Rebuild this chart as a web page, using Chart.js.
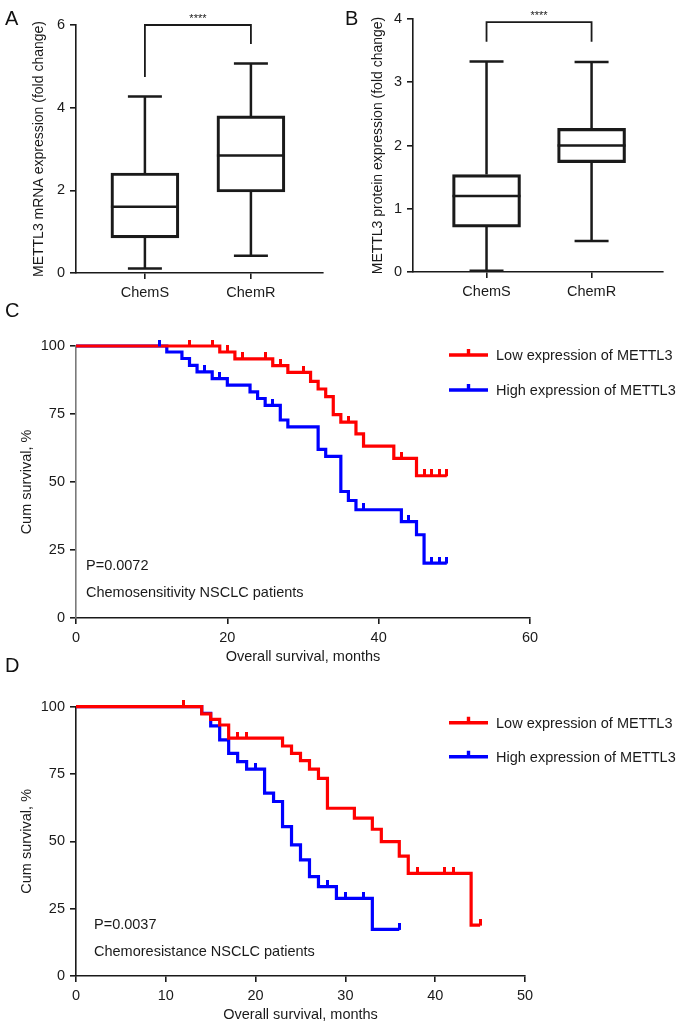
<!DOCTYPE html>
<html>
<head>
<meta charset="utf-8">
<script src="https://cdn.jsdelivr.net/npm/chart.js@4.4.0/dist/chart.umd.min.js"></script>
<style>
  body { margin: 0; background: #fff; width: 680px; height: 1027px; position: relative; overflow: hidden;
         font-family: 'Liberation Sans', Arial, sans-serif; }
  .panel { position: absolute; }
  .tag { position: absolute; font-size: 20px; line-height: 20px; color: #111; }
</style>
</head>
<body>
<div class="panel" style="left:0;top:0"><canvas id="boxA" width="340" height="310"></canvas></div>
<div class="panel" style="left:340px;top:0"><canvas id="boxB" width="340" height="310"></canvas></div>
<div class="panel" style="left:0;top:300px"><canvas id="kmC" width="680" height="370"></canvas></div>
<div class="panel" style="left:0;top:670px"><canvas id="kmD" width="680" height="357"></canvas></div>
<div class="tag" style="left:5px;top:8px">A</div>
<div class="tag" style="left:345px;top:8px">B</div>
<div class="tag" style="left:5px;top:300px">C</div>
<div class="tag" style="left:5px;top:655px">D</div>

<script>
// ---- box plots (fold change) ----
const groups = ["ChemS", "ChemR"];

const mrnaMin = [0.11, 0.42];
const mrnaQ1 = [0.85, 1.96];
const mrnaMedian = [1.6, 2.84];
const mrnaQ3 = [2.42, 3.8];
const mrnaMax = [4.27, 5.07];
const mrnaTicks = [0, 2, 4, 6];
const mrnaBracket = [4.74, 6.0, 5.54]; // left leg end, top, right leg end

const protMin = [0.02, 0.49];
const protQ1 = [0.71, 1.73];
const protMedian = [1.2, 2.0];
const protQ3 = [1.54, 2.27];
const protMax = [3.33, 3.32];
const protTicks = [0, 1, 2, 3, 4];
const protBracket = [3.64, 3.95, 3.64];

// ---- Kaplan-Meier, chemosensitive cohort ----
const sensLowTime = [0, 19, 21, 26, 28, 31, 32, 33, 34, 35, 37, 38, 42, 45, 49];
const sensLowSurv = [100, 97.8, 95.3, 92.8, 90.3, 87.0, 84.2, 81.4, 74.8, 72.0, 67.7, 63.2, 58.7, 52.3, 52.3];
const sensLowCensor = [15, 18, 20, 22, 25, 27, 30, 36, 43, 46, 47, 48, 49];
const sensHighTime = [0, 12, 14, 15, 16, 18, 20, 23, 24, 25, 27, 28, 32, 33, 35, 36, 37, 43, 45, 46, 49];
const sensHighSurv = [100, 97.8, 95.4, 92.9, 90.5, 88.0, 85.6, 83.1, 80.7, 78.2, 72.8, 70.3, 62.0, 59.4, 46.5, 43.2, 39.8, 35.4, 30.6, 20.2, 20.2];
const sensHighCensor = [11, 17, 19, 26, 38, 44, 47, 48, 49];

// ---- Kaplan-Meier, chemoresistant cohort ----
const resLowTime = [0, 14, 15, 16, 17, 23, 24, 25, 26, 27, 28, 31, 33, 34, 36, 37, 44, 45];
const resLowSurv = [100, 97.3, 95.3, 93.2, 88.3, 85.4, 82.7, 80.0, 76.8, 73.4, 62.3, 58.6, 54.5, 49.9, 44.5, 38.1, 18.9, 18.9];
const resLowCensor = [12, 18, 19, 38, 41, 42, 45];
const resHighTime = [0, 14, 15, 16, 17, 18, 19, 21, 22, 23, 24, 25, 26, 27, 29, 33, 36];
const resHighSurv = [100, 97.5, 92.9, 87.7, 82.7, 79.6, 76.8, 67.9, 64.8, 55.5, 48.7, 43.1, 36.9, 33.2, 28.8, 17.3, 17.3];
const resHighCensor = [20, 28, 30, 32, 36];

const survTicks = [0, 25, 50, 75, 100];
const monthTicksC = [0, 20, 40, 60];
const monthTicksD = [0, 10, 20, 30, 40, 50];

const ink = "#1a1a1a";
Chart.defaults.font.family = "'Liberation Sans', Arial, sans-serif";
Chart.defaults.font.size = 14.5;
Chart.defaults.color = ink;
Chart.defaults.animation = false;
Chart.defaults.plugins.legend.display = false;
Chart.defaults.plugins.tooltip.enabled = false;

function boxChart(id, mins, q1s, meds, q3s, maxs, yTicks, bracket, yTitle, opt) {
  return new Chart(document.getElementById(id), {
    type: "bar",
    data: {
      datasets: [{
        data: groups.map((g, i) => ({ x: i + 1, y: [q1s[i], q3s[i]] })),
        backgroundColor: "rgba(255,255,255,0)",
        borderColor: ink,
        borderWidth: 2.5,
        borderSkipped: false,
        barThickness: 68,
      }],
    },
    options: {
      responsive: false,
      layout: { padding: { top: opt.top, right: 17, left: 0, bottom: 0 } },
      scales: {
        x: {
          type: "linear", min: opt.xMin, max: opt.xMax, offset: false,
          afterBuildTicks: (s) => { s.ticks = groups.map((g, i) => ({ value: i + 1 })); },
          ticks: { callback: (v) => groups[v - 1], padding: 5, color: ink, maxRotation: 0 },
          grid: { drawOnChartArea: false, offset: false, tickLength: 6, color: ink, lineWidth: 1.6 },
          border: { color: ink, width: 1.6 },
          afterFit: (s) => { s.height = opt.xHeight; },
        },
        y: {
          min: yTicks[0], max: yTicks[yTicks.length - 1],
          afterBuildTicks: (s) => { s.ticks = yTicks.map((v) => ({ value: v })); },
          ticks: { padding: 5, color: ink },
          grid: { drawOnChartArea: false, tickLength: 6, color: ink, lineWidth: 1.6 },
          border: { color: ink, width: 1.6 },
          title: { display: true, text: yTitle, color: ink, font: { size: 14 }, padding: { top: opt.titlePad, bottom: 0 } },
          afterFit: (s) => { s.width = opt.yWidth; },
        },
      },
    },
    plugins: [{
      id: "whiskers",
      afterDatasetsDraw(chart) {
        const { ctx, scales: { x, y } } = chart;
        const py = (v) => y.getPixelForValue(v);
        ctx.save();
        ctx.strokeStyle = ink;
        ctx.lineWidth = 2.5;
        groups.forEach((g, i) => {
          const cx = x.getPixelForValue(i + 1);
          ctx.beginPath();
          ctx.moveTo(cx - 34, py(meds[i])); ctx.lineTo(cx + 34, py(meds[i]));
          ctx.moveTo(cx, py(q3s[i])); ctx.lineTo(cx, py(maxs[i]));
          ctx.moveTo(cx - 17, py(maxs[i])); ctx.lineTo(cx + 17, py(maxs[i]));
          ctx.moveTo(cx, py(q1s[i])); ctx.lineTo(cx, py(mins[i]));
          ctx.moveTo(cx - 17, py(mins[i])); ctx.lineTo(cx + 17, py(mins[i]));
          ctx.stroke();
        });
        // significance bracket
        const x1 = x.getPixelForValue(1), x2 = x.getPixelForValue(2);
        ctx.lineWidth = 1.8;
        ctx.beginPath();
        ctx.moveTo(x1, py(bracket[0]));
        ctx.lineTo(x1, py(bracket[1]));
        ctx.lineTo(x2, py(bracket[1]));
        ctx.lineTo(x2, py(bracket[2]));
        ctx.stroke();
        ctx.fillStyle = ink;
        ctx.font = "11px 'Liberation Sans', Arial, sans-serif";
        ctx.textAlign = "center";
        ctx.textBaseline = "bottom";
        ctx.fillText("****", (x1 + x2) / 2, py(bracket[1]) - 1);
        ctx.restore();
      },
    }],
  });
}

boxChart("boxA", mrnaMin, mrnaQ1, mrnaMedian, mrnaQ3, mrnaMax, mrnaTicks, mrnaBracket,
  "METTL3 mRNA expression (fold change)",
  { top: 25, xMin: 0.35, xMax: 2.68, xHeight: 37, yWidth: 76, titlePad: 31 });
boxChart("boxB", protMin, protQ1, protMedian, protQ3, protMax, protTicks, protBracket,
  "METTL3 protein expression (fold change)",
  { top: 19, xMin: 0.3, xMax: 2.68, xHeight: 38, yWidth: 73, titlePad: 30 });

// ---- survival curves ----
function stepPoints(times, surv) {
  return times.map((t, i) => ({ x: t, y: surv[i] }));
}
function survAt(times, surv, t) {
  let s = surv[0];
  times.forEach((tt, i) => { if (tt <= t) s = surv[i]; });
  return s;
}
function censorMark(color) {
  const c = document.createElement("canvas");
  c.width = 3; c.height = 13;
  const g = c.getContext("2d");
  g.fillStyle = color;
  g.fillRect(0, 0, 3, 7);
  return c;
}

function kmChart(id, series, xTicks, pText, cohortText, opt) {
  const lines = [], marks = [];
  series.forEach((s) => {
    lines.push({
      data: stepPoints(s.time, s.surv), showLine: true, stepped: true,
      borderColor: s.color, borderWidth: 3.2, borderJoinStyle: "miter", borderCapStyle: "butt",
      pointRadius: 0, clip: false,
    });
    marks.push({
      data: s.censor.map((t) => ({ x: t, y: survAt(s.time, s.surv, t) })),
      showLine: false, pointStyle: censorMark(s.color), pointRadius: 5, clip: false,
    });
  });
  return new Chart(document.getElementById(id), {
    type: "scatter",
    data: { datasets: marks.concat(lines) },
    options: {
      responsive: false,
      layout: { padding: { top: opt.top, right: opt.right, left: 0, bottom: 0 } },
      scales: {
        x: {
          type: "linear", min: xTicks[0], max: xTicks[xTicks.length - 1],
          afterBuildTicks: (s) => { s.ticks = xTicks.map((v) => ({ value: v })); },
          ticks: { padding: 5, color: ink },
          grid: { drawOnChartArea: false, tickLength: 6, color: ink, lineWidth: 1.6 },
          border: { color: ink, width: 1.6 },
          title: { display: true, text: "Overall survival, months", color: ink, padding: { top: 0, bottom: opt.xTitlePad } },
          afterFit: (s) => { s.height = opt.xHeight; },
        },
        y: {
          min: 0, max: 100,
          afterBuildTicks: (s) => { s.ticks = survTicks.map((v) => ({ value: v })); },
          ticks: { padding: 5, color: ink },
          grid: { drawOnChartArea: false, tickLength: 6, color: ink, lineWidth: 1.6 },
          border: { color: opt.yAxisColor, width: 1.6 },
          title: { display: true, text: "Cum survival, %", color: ink, padding: { top: 18, bottom: 0 } },
          afterFit: (s) => { s.width = 76; },
        },
      },
    },
    plugins: [{
      id: "kmText",
      afterDraw(chart) {
        const { ctx, chartArea } = chart;
        ctx.save();
        ctx.font = "14.5px 'Liberation Sans', Arial, sans-serif";
        ctx.fillStyle = ink;
        ctx.textBaseline = "middle";
        ctx.textAlign = "left";
        ctx.fillText(pText, chartArea.left + opt.textDx, chartArea.bottom - opt.pDy);
        ctx.fillText(cohortText, chartArea.left + opt.textDx, chartArea.bottom - opt.cohortDy);
        series.forEach((s, i) => {
          const ly = opt.legendTop + i * opt.legendGap;
          ctx.strokeStyle = s.color;
          ctx.lineWidth = 3.4;
          ctx.beginPath();
          ctx.moveTo(449, ly); ctx.lineTo(488, ly);
          ctx.moveTo(468.5, ly); ctx.lineTo(468.5, ly - 6);
          ctx.stroke();
          ctx.fillStyle = ink;
          ctx.fillText(s.label, 496, ly + 1);
        });
        ctx.restore();
      },
    }],
  });
}

kmChart("kmC", [
  { time: sensLowTime, surv: sensLowSurv, censor: sensLowCensor, color: "#ff0000", label: "Low expression of METTL3" },
  { time: sensHighTime, surv: sensHighSurv, censor: sensHighCensor, color: "#0000ff", label: "High expression of METTL3" },
], monthTicksC, "P=0.0072", "Chemosensitivity NSCLC patients",
  { top: 46, right: 150, xHeight: 52, xTitlePad: 4, yAxisColor: "#7a7a7a",
    textDx: 10, pDy: 52, cohortDy: 25, legendTop: 55, legendGap: 35 });

kmChart("kmD", [
  { time: resLowTime, surv: resLowSurv, censor: resLowCensor, color: "#ff0000", label: "Low expression of METTL3" },
  { time: resHighTime, surv: resHighSurv, censor: resHighCensor, color: "#0000ff", label: "High expression of METTL3" },
], monthTicksD, "P=0.0037", "Chemoresistance NSCLC patients",
  { top: 36.7, right: 155, xHeight: 51, xTitlePad: 3, yAxisColor: ink,
    textDx: 18, pDy: 51, cohortDy: 24, legendTop: 52.7, legendGap: 34 });
</script>
</body>
</html>
